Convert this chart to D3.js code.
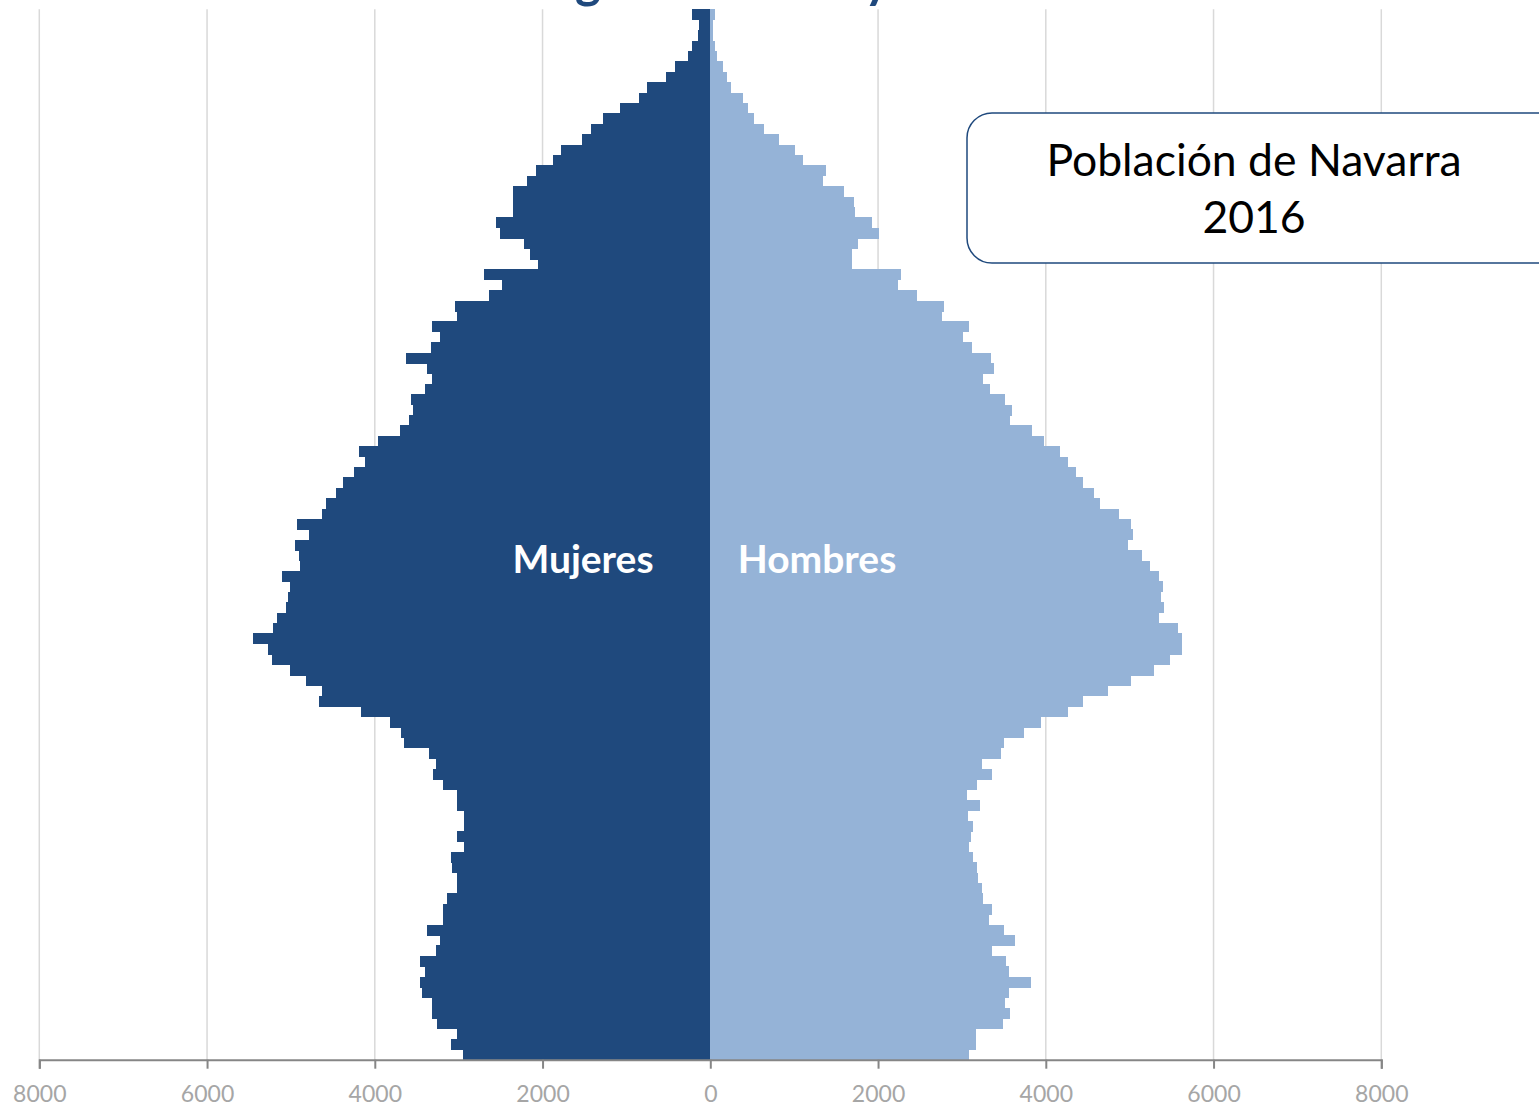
<!DOCTYPE html>
<html>
<head>
<meta charset="utf-8">
<script src="https://cdn.jsdelivr.net/npm/d3@7"></script>
<style>
  body { margin: 0; background: #fff; }
  svg { display: block; }
</style>
</head>
<body>
<div class="visualize"></div>
<script>
// edades 0..100 (100 = 100 y más), de abajo arriba
var edades = d3.range(0, 101);

// mujeres por edad (0 -> 100)
var mujeres = [2949, 3092, 3020, 3258, 3317, 3317, 3437, 3460, 3401, 3460,
  3270, 3222, 3377, 3187, 3187, 3139, 3020, 3020, 3080, 3092,
  2937, 3020, 2937, 2937, 3020, 3020, 3187, 3306, 3270, 3354,
  3652, 3687, 3819, 4164, 4665, 4629, 4820, 5011, 5226, 5273,
  5452, 5214, 5166, 5059, 5035, 5011, 5106, 4891, 4903, 4951,
  4784, 4927, 4629, 4581, 4462, 4379, 4248, 4117, 4188, 3961,
  3699, 3592, 3544, 3568, 3401, 3317, 3377, 3627, 3329, 3222,
  3317, 3019, 3043, 2638, 2483, 2698, 2054, 2149, 2221, 2507,
  2555, 2352, 2352, 2352, 2185, 2078, 1876, 1780, 1530, 1422,
  1279, 1076, 850, 755, 528, 421, 266, 218, 147, 131,
  218];

// hombres por edad (0 -> 100)
var hombres = [3083, 3167, 3167, 3489, 3572, 3512, 3560, 3823, 3560, 3525,
  3357, 3632, 3501, 3321, 3357, 3250, 3238, 3190, 3178, 3131,
  3083, 3107, 3131, 3071, 3214, 3059, 3178, 3357, 3238, 3465,
  3501, 3740, 3942, 4263, 4442, 4741, 5015, 5289, 5480, 5623,
  5623, 5575, 5349, 5408, 5373, 5397, 5349, 5241, 5146, 4980,
  5039, 5015, 4872, 4645, 4573, 4442, 4358, 4263, 4168, 3977,
  3834, 3572, 3596, 3512, 3333, 3250, 3381, 3345, 3119, 3011,
  3083, 2762, 2786, 2464, 2237, 2273, 1689, 1689, 1761, 2011,
  1928, 1725, 1713, 1594, 1344, 1380, 1107, 1012, 822, 643,
  524, 453, 393, 250, 203, 155, 80, 56, 32, 32,
  56];

var ticks = [-8000, -6000, -4000, -2000, 0, 2000, 4000, 6000, 8000];

var w = 1539;
var h = 1109;

var svg = d3.select(".visualize")
  .append("svg")
  .attr("width", w)
  .attr("height", h);

var x = d3.scaleLinear()
  .domain([-8000, 8000])
  .range([39.3, 1381.3]);

var y = d3.scaleBand()
  .domain(edades.slice().reverse())
  .range([9.3, 1059.7])
  .padding(0);

// gridlines
svg.append("g")
  .selectAll("line")
  .data(ticks)
  .enter()
  .append("line")
  .attr("x1", function(d){ return x(d); })
  .attr("x2", function(d){ return x(d); })
  .attr("y1", 9.3)
  .attr("y2", 1059.7)
  .attr("stroke", "#d9d9d9")
  .attr("stroke-width", 1.5);

// barras mujeres (a la izquierda)
svg.append("g")
  .attr("shape-rendering", "crispEdges")
  .selectAll("rect")
  .data(edades)
  .enter()
  .append("rect")
  .attr("x", function(d){ return x(-mujeres[d]); })
  .attr("y", function(d){ return y(d); })
  .attr("width", function(d){ return x(0) - x(-mujeres[d]); })
  .attr("height", y.bandwidth() + 0.6)
  .attr("fill", "#1f497d");

// barras hombres (a la derecha)
svg.append("g")
  .attr("shape-rendering", "crispEdges")
  .selectAll("rect")
  .data(edades)
  .enter()
  .append("rect")
  .attr("x", x(0))
  .attr("y", function(d){ return y(d); })
  .attr("width", function(d){ return x(hombres[d]) - x(0); })
  .attr("height", y.bandwidth() + 0.6)
  .attr("fill", "#95b3d7");

// eje x
var axis = d3.axisBottom(x)
  .tickValues(ticks)
  .tickFormat(function(d){ return Math.abs(d); })
  .tickSize(9)
  .tickPadding(17);

var gx = svg.append("g")
  .attr("transform", "translate(0,1059.7)")
  .call(axis);

gx.select(".domain").attr("stroke", "#868686").attr("stroke-width", 2);
gx.selectAll(".tick line").attr("stroke", "#868686").attr("stroke-width", 2);
gx.selectAll(".tick text")
  .attr("fill", "#a6a6a6")
  .attr("font-family", "Lato, sans-serif")
  .attr("font-size", "23px");

// titulo (cortado por arriba, como en el original)
var titulo = svg.append("text")
  .attr("x", 0)
  .attr("y", -2)
  .attr("font-family", "Lato, sans-serif")
  .attr("font-weight", "bold")
  .attr("font-size", "50px")
  .attr("fill", "#1f497d")
  .text("Estructura demográfica: edad y sexo");

// colocar la "g" y la "y" donde se ven en el original
var txt = titulo.text();
var tn = titulo.node();
var gi = txt.indexOf("g");
var yi = txt.indexOf(" y ") + 1;
var gap = tn.getStartPositionOfChar(yi).x - tn.getStartPositionOfChar(gi).x;
titulo.attr("font-size", (50 * 289 / gap) + "px");
var gx0 = tn.getStartPositionOfChar(gi).x;
titulo.attr("x", 575 - gx0);

// etiquetas de serie
svg.append("text")
  .attr("x", 583)
  .attr("y", 573)
  .attr("text-anchor", "middle")
  .attr("font-family", "Lato, sans-serif")
  .attr("font-weight", "bold")
  .attr("font-size", "39px")
  .attr("fill", "#ffffff")
  .text("Mujeres");

svg.append("text")
  .attr("x", 817)
  .attr("y", 573)
  .attr("text-anchor", "middle")
  .attr("font-family", "Lato, sans-serif")
  .attr("font-weight", "bold")
  .attr("font-size", "39px")
  .attr("fill", "#ffffff")
  .text("Hombres");

// cuadro de texto
svg.append("rect")
  .attr("x", 967)
  .attr("y", 113)
  .attr("width", 620)
  .attr("height", 150)
  .attr("rx", 25)
  .attr("ry", 25)
  .attr("fill", "#ffffff")
  .attr("stroke", "#1f497d")
  .attr("stroke-width", 1.5);

svg.append("text")
  .attr("x", 1254)
  .attr("y", 176)
  .attr("text-anchor", "middle")
  .attr("font-family", "Lato, sans-serif")
  .attr("font-size", "44.5px")
  .attr("fill", "#000")
  .text("Población de Navarra");

svg.append("text")
  .attr("x", 1254)
  .attr("y", 233)
  .attr("text-anchor", "middle")
  .attr("font-family", "Lato, sans-serif")
  .attr("font-size", "44.5px")
  .attr("fill", "#000")
  .text("2016");
</script>
</body>
</html>
